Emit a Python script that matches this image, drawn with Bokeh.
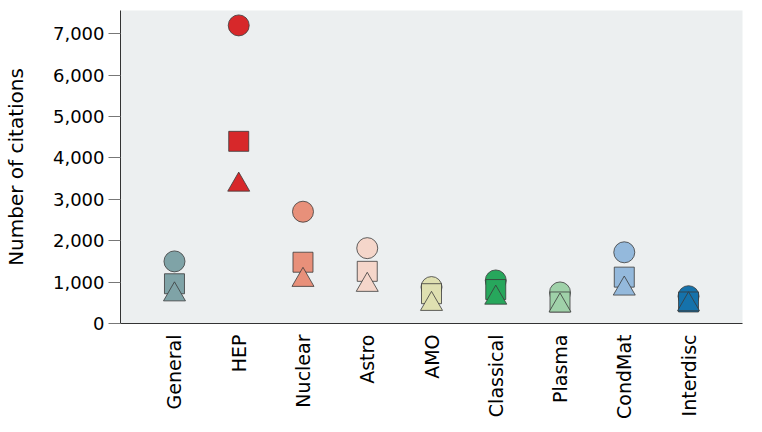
import math
from bokeh.plotting import figure
from bokeh.models import FactorRange, Range1d, NumeralTickFormatter, FixedTicker, ColumnDataSource
from bokeh.embed import file_html
from bokeh.resources import INLINE

categories = ["General", "HEP", "Nuclear", "Astro", "AMO", "Classical", "Plasma", "CondMat", "Interdisc"]
colors = ["#7fa3a7", "#d7282a", "#e8907a", "#f5d6ca", "#dfe0b1", "#27a75c", "#9fd1a9", "#94b9dc", "#1572ab"]
circle_vals = [1500, 7200, 2700, 1820, 880, 1040, 750, 1720, 660]
square_vals = [960, 4400, 1480, 1260, 720, 820, 520, 1120, 520]
triangle_vals = [700, 3350, 1050, 930, 470, 620, 430, 840, 460]
y_ticks = [0, 1000, 2000, 3000, 4000, 5000, 6000, 7000]

FONT = "DejaVu Sans"

src = ColumnDataSource(dict(cat=categories, col=colors, c=circle_vals, s=square_vals, t=triangle_vals))

p = figure(width=750, height=424, output_backend="svg", toolbar_location=None,
           x_range=FactorRange(*categories, range_padding=0.34, range_padding_units="absolute"),
           y_range=Range1d(0, 7560),
           min_border_left=119, min_border_right=8, min_border_top=10, min_border_bottom=101)

p.background_fill_color = "#eceff0"
p.border_fill_color = "white"
p.outline_line_color = None
p.grid.grid_line_color = None

outline = "#3a3a3a"
p.scatter(x="cat", y="c", source=src, marker="circle", size=21, fill_color="col", line_color=outline, line_width=0.8)
p.scatter(x="cat", y="s", source=src, marker="square", size=20, fill_color="col", line_color=outline, line_width=0.8)
p.scatter(x="cat", y="t", source=src, marker="triangle", size=22, fill_color="col", line_color=outline, line_width=0.8)

ya = p.yaxis[0]
ya.ticker = FixedTicker(ticks=y_ticks)
ya.formatter = NumeralTickFormatter(format="0,0")
ya.axis_label = "Number of citations"
ya.axis_label_text_font = FONT
ya.axis_label_text_font_size = "20px"
ya.axis_label_text_font_style = "normal"
ya.axis_label_text_color = "black"
ya.axis_label_standoff = 22
ya.major_label_text_font = FONT
ya.major_label_text_font_size = "18px"
ya.major_label_text_color = "black"
ya.major_tick_out = 12
ya.major_tick_in = 0
ya.major_tick_line_color = "#777777"
ya.minor_tick_line_color = None
ya.axis_line_color = "#333333"
ya.major_label_standoff = 4

xa = p.xaxis[0]
xa.major_label_orientation = math.pi / 2
xa.major_label_text_font = FONT
xa.major_label_text_font_size = "19px"
xa.major_label_text_color = "black"
xa.major_tick_line_color = None
xa.minor_tick_line_color = None
xa.axis_line_color = "#333333"
xa.major_label_standoff = 5

open("out.html", "w").write(file_html(p, INLINE))
